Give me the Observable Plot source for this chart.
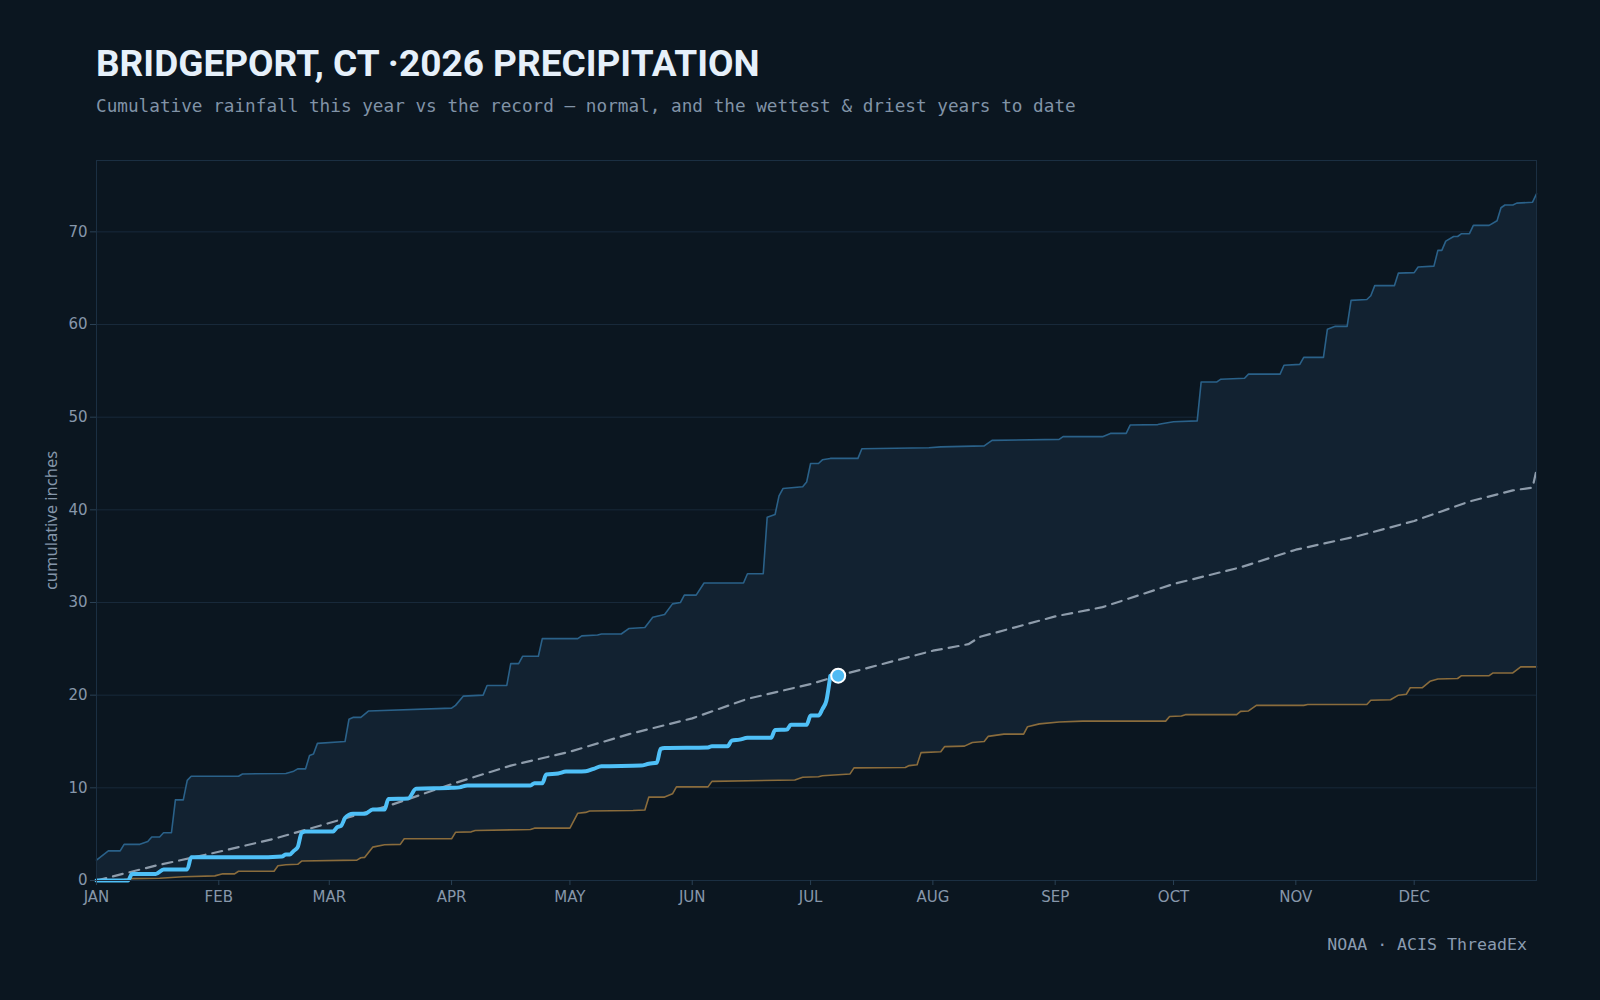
<!DOCTYPE html>
<html>
<head>
<meta charset="utf-8">
<script src="https://cdn.jsdelivr.net/npm/d3@7"></script>
<script src="https://cdn.jsdelivr.net/npm/@observablehq/plot@0.6"></script>
<style>
  html, body { margin: 0; padding: 0; background: #0b1620; }
  #chart { position: relative; width: 1600px; height: 1000px; overflow: hidden; }
  .title { position: absolute; left: 96px; top: 45px; font: 700 37px Roboto, sans-serif; color: #e6f0fa; line-height: 1; white-space: pre; }
  .subtitle { position: absolute; left: 96px; top: 98px; font: 17.7px "DejaVu Sans Mono", monospace; color: #8193a7; line-height: 1; white-space: pre; }
  .caption { position: absolute; right: 73px; top: 937px; font: 16.6px "DejaVu Sans Mono", monospace; color: #8a9bb0; line-height: 1; white-space: pre; }
  #plot { position: absolute; left: 0; top: 130px; }
</style>
</head>
<body>
<div id="chart">
  <div class="title">BRIDGEPORT, CT ·2026 PRECIPITATION</div>
  <div class="subtitle">Cumulative rainfall this year vs the record — normal, and the wettest &amp; driest years to date</div>
  <div id="plot"></div>
  <div class="caption">NOAA · ACIS ThreadEx</div>
</div>
<script>
// Season: day-of-year index (0 = Jan 1) and cumulative precipitation in inches.
const YEAR = 2026;
const monthLabels = ["JAN", "FEB", "MAR", "APR", "MAY", "JUN", "JUL", "AUG", "SEP", "OCT", "NOV", "DEC"];
const yTicks = [0, 10, 20, 30, 40, 50, 60, 70];
const yMax = 77.7;

// Wettest year on record, cumulative to date
const wettest = [
  [0, 2.2], [3, 3.2], [6, 3.2], [7, 3.9], [11, 3.9], [13, 4.2], [14, 4.7], [16, 4.7], [17, 5.15], [19, 5.15],
  [20, 8.7], [22, 8.7], [23, 10.8], [24, 11.25], [36, 11.25], [37, 11.5], [48, 11.55], [50, 11.8], [51, 12.05],
  [53, 12.05], [54, 13.5], [55, 13.65], [56, 14.8], [63, 15.0], [64, 17.4], [65, 17.6], [67, 17.6], [69, 18.3],
  [90, 18.6], [91, 18.9], [93, 19.9], [98, 20.0], [99, 21.05], [104, 21.05], [105, 23.4], [107, 23.4], [108, 24.2],
  [112, 24.2], [113, 26.1], [122, 26.1], [123, 26.4], [127, 26.5], [128, 26.6], [133, 26.6], [135, 27.2], [139, 27.3],
  [141, 28.4], [144, 28.7], [146, 29.85], [148, 30.0], [149, 30.8], [152, 30.8], [154, 32.1], [164, 32.1], [165, 33.1],
  [169, 33.1], [170, 39.2], [172, 39.5], [173, 41.5], [174, 42.3], [179, 42.5], [180, 43.0], [181, 45.0], [183, 45.0],
  [184, 45.4], [186, 45.55], [193, 45.55], [194, 46.6], [211, 46.7], [214, 46.8], [225, 46.9], [227, 47.5], [244, 47.6],
  [245, 47.9], [255, 47.9], [257, 48.25], [261, 48.25], [262, 49.15], [269, 49.2], [270, 49.3], [273, 49.5], [279, 49.6],
  [280, 53.8], [284, 53.8], [285, 54.1], [291, 54.2], [292, 54.65], [300, 54.65], [301, 55.6], [305, 55.7], [306, 56.45],
  [311, 56.45], [312, 59.5], [314, 59.8], [317, 59.8], [318, 62.6], [322, 62.7], [323, 63.1], [324, 64.2], [329, 64.2],
  [330, 65.55], [334, 65.6], [335, 66.2], [339, 66.3], [340, 68.0], [341, 68.0], [342, 69.0], [344, 69.5], [345, 69.5],
  [346, 69.8], [348, 69.8], [349, 70.7], [353, 70.7], [355, 71.2], [356, 72.6], [357, 72.9], [359, 72.9], [360, 73.1],
  [364, 73.2], [365, 74.1]
];

// Driest year on record, cumulative to date
const driest = [
  [0, 0.0], [7, 0.1], [9, 0.2], [16, 0.25], [22, 0.4], [30, 0.5], [32, 0.72], [35, 0.72], [36, 1.0], [45, 1.0],
  [46, 1.6], [48, 1.7], [51, 1.75], [52, 2.1], [66, 2.2], [67, 2.45], [68, 2.5], [70, 3.6], [73, 3.85], [77, 3.9],
  [78, 4.5], [90, 4.5], [91, 5.2], [95, 5.25], [96, 5.4], [110, 5.5], [111, 5.65], [120, 5.65], [122, 7.26], [124, 7.35],
  [125, 7.5], [136, 7.55], [139, 7.6], [140, 9.0], [144, 9.0], [146, 9.35], [147, 10.1], [155, 10.1], [156, 10.7],
  [177, 10.85], [179, 11.15], [183, 11.2], [184, 11.3], [191, 11.5], [192, 12.15], [205, 12.2], [206, 12.4], [208, 12.5],
  [209, 13.8], [214, 13.9], [215, 14.45], [220, 14.5], [222, 14.9], [225, 15.0], [226, 15.55], [230, 15.8], [235, 15.8],
  [236, 16.6], [239, 16.9], [244, 17.1], [250, 17.2], [271, 17.2], [272, 17.7], [275, 17.75], [276, 17.9], [289, 17.9],
  [290, 18.25], [292, 18.3], [294, 18.9], [306, 18.9], [307, 19.0], [322, 19.0], [323, 19.45], [328, 19.5], [330, 20.0],
  [332, 20.1], [333, 20.8], [336, 20.8], [338, 21.5], [340, 21.75], [345, 21.8], [346, 22.1], [353, 22.1], [354, 22.4],
  [359, 22.4], [361, 23.05], [365, 23.05]
];

// 30-year normal, cumulative
const normal = [
  [0, 0.0], [15, 1.6], [31, 3.1], [45, 4.5], [59, 6.2], [75, 8.2], [90, 10.4], [105, 12.4], [120, 13.9], [135, 15.8],
  [151, 17.5], [165, 19.6], [181, 21.2], [188, 22.1], [196, 23.0], [212, 24.8], [221, 25.5], [224, 26.3], [243, 28.5],
  [255, 29.5], [273, 32.0], [290, 33.8], [304, 35.7], [320, 37.2], [334, 38.8], [348, 40.9], [359, 42.1], [364, 42.4],
  [365, 44.3]
];

// This year so far
const thisYear = [
  [0, 0.0], [8, 0.0], [9, 0.7], [15, 0.7], [17, 1.2], [23, 1.2], [24, 2.5], [40, 2.5], [47, 2.6], [48, 2.8], [49, 2.8],
  [50, 3.2], [51, 3.6], [52, 5.15], [53, 5.3], [60, 5.3], [61, 5.75], [62, 5.9], [63, 6.75], [64, 7.1], [65, 7.2],
  [68, 7.2], [70, 7.65], [73, 7.65], [74, 8.8], [79, 8.85], [81, 9.9], [90, 10.0], [92, 10.05], [94, 10.25], [110, 10.25],
  [111, 10.5], [113, 10.5], [114, 11.45], [117, 11.55], [119, 11.75], [124, 11.8], [126, 12.05], [128, 12.33], [138, 12.4],
  [140, 12.6], [142, 12.7], [143, 14.2], [144, 14.3], [155, 14.35], [156, 14.5], [160, 14.5], [161, 15.1], [163, 15.2],
  [165, 15.4], [171, 15.4], [172, 16.25], [175, 16.3], [176, 16.8], [180, 16.8], [181, 17.8], [183, 17.8], [184, 18.5],
  [185, 19.4], [186, 22.1]
];

// Latest reading: day index and total
const latest = [[188, 22.1]];

const start = new Date(Date.UTC(YEAR, 0, 1));
const end = new Date(Date.UTC(YEAR + 1, 0, 1));
const toDate = (d) => new Date(start.getTime() + d * 864e5);
const rows = (pts) => pts.map(([d, v]) => ({date: toDate(d), value: v}));

const W = rows(wettest);
const D = rows(driest);
const N = rows(normal);
const T = rows(thisYear);
const L = rows(latest);
// closed outline: wettest forward, then driest back to Jan 1
const band = W.concat(D.slice().reverse());
const monthTicks = d3.utcMonths(start, end);

const chart = Plot.plot({
  width: 1600,
  height: 790,
  marginLeft: 96,
  marginRight: 64,
  marginTop: 30,
  marginBottom: 40,
  style: {background: "transparent", color: "#8797aa", fontFamily: "DejaVu Sans", fontSize: "15px"},
  x: {type: "utc", domain: [start, end]},
  y: {domain: [0, yMax]},
  marks: [
    Plot.gridY(yTicks, {stroke: "#18293a", strokeOpacity: 1}),
    Plot.line(band, {x: "date", y: "value", fill: "#122231", stroke: "none"}),
    Plot.line(D, {x: "date", y: "value", stroke: "#8a6c3c", strokeWidth: 1.6}),
    Plot.line(W, {x: "date", y: "value", stroke: "#2a6189", strokeWidth: 1.6}),
    Plot.line(N, {x: "date", y: "value", stroke: "#8e9cab", strokeWidth: 2.2, strokeDasharray: "10,7"}),
    Plot.line(T, {x: "date", y: "value", stroke: "#4fc0f7", strokeWidth: 4, curve: "monotone-x", strokeLinejoin: "round", strokeLinecap: "round"}),
    Plot.dot(L, {x: "date", y: "value", r: 7, fill: "#4fbaf3", stroke: "#ffffff", strokeWidth: 2}),
    Plot.frame({stroke: "#1b2f42"}),
    Plot.axisX({ticks: monthTicks, tickFormat: (d) => monthLabels[d.getUTCMonth()], tickSize: 5, tickPadding: 6, stroke: "#2a4054", label: null}),
    Plot.axisY({ticks: yTicks, tickSize: 6, stroke: "#2a4054", label: null}),
    Plot.text(["cumulative inches"], {frameAnchor: "left", textAnchor: "middle", rotate: -90, dx: -45, fontFamily: "Noto Sans", fontSize: 16.5, fill: "#8596aa"})
  ]
});
document.getElementById("plot").appendChild(chart);
</script>
</body>
</html>
